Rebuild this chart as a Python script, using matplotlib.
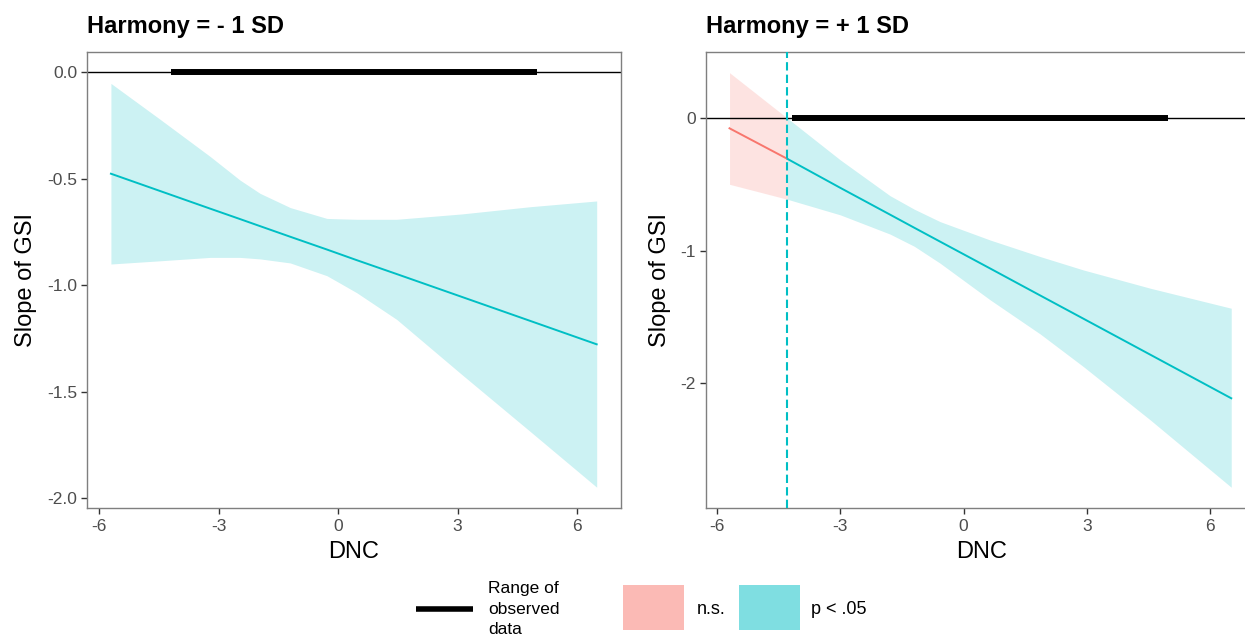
import matplotlib.pyplot as plt
from matplotlib.patches import Rectangle
from matplotlib.lines import Line2D

plt.rcParams['font.family'] = ['Liberation Sans', 'DejaVu Sans']
plt.rcParams['axes.unicode_minus'] = False

NS_COLOR = '#F8766D'
SIG_COLOR = '#00BFC4'
W, H = 1245, 636

# Conditional slope of GSI along DNC, Harmony = -1 SD
low_dnc = [-5.70, -4.47, -3.21, -2.46, -1.96, -1.20, -0.28, 0.05, 0.47, 1.47, 3.10, 4.82, 6.49]
low_slope = [-0.476, -0.557, -0.640, -0.689, -0.722, -0.772, -0.832, -0.854, -0.882, -0.947, -1.054, -1.167, -1.277]
low_upper = [-0.052, -0.220, -0.395, -0.506, -0.568, -0.635, -0.686, -0.688, -0.690, -0.690, -0.665, -0.631, -0.604]
low_lower = [-0.900, -0.885, -0.869, -0.869, -0.876, -0.895, -0.955, -0.990, -1.035, -1.160, -1.418, -1.686, -1.948]

# Harmony = +1 SD
high_dnc = [-5.70, -4.29, -3.00, -1.79, -1.20, -0.57, 0.65, 1.87, 2.92, 4.55, 6.52]
high_slope = [-0.076, -0.307, -0.526, -0.728, -0.827, -0.932, -1.135, -1.339, -1.514, -1.786, -2.115]
high_upper = [0.344, 0.000, -0.315, -0.585, -0.687, -0.781, -0.920, -1.045, -1.146, -1.284, -1.435]
high_lower = [-0.499, -0.612, -0.730, -0.875, -0.967, -1.095, -1.372, -1.630, -1.876, -2.279, -2.787]
high_jn = -4.29  # Johnson-Neyman boundary

observed_range = [-4.18, 4.98]
x_ticks = [-6, -3, 0, 3, 6]
low_yticks = [0.0, -0.5, -1.0, -1.5, -2.0]
low_yticklabels = ['0.0', '-0.5', '-1.0', '-1.5', '-2.0']
high_yticks = [0, -1, -2]
high_yticklabels = ['0', '-1', '-2']


def pick(xs, ys, keep):
    return [y for x, y in zip(xs, ys) if keep(x)]


def draw_panel(ax, dnc, slope, lower, upper, jn, title, yticks, ylabels, xlim, ylim):
    ax.axhline(0, color='black', lw=1.0, zorder=2)
    ax.plot(observed_range, [0, 0], color='black', lw=4.3, solid_capstyle='butt', zorder=3)

    if jn is None:
        segments = [(SIG_COLOR, lambda x: True)]
    else:
        segments = [(NS_COLOR, lambda x: x <= jn), (SIG_COLOR, lambda x: x >= jn)]
    for color, keep in segments:
        xs = pick(dnc, dnc, keep)
        ax.fill_between(xs, pick(dnc, lower, keep), pick(dnc, upper, keep),
                        color=color, alpha=0.2, lw=0, zorder=1)
        ax.plot(xs, pick(dnc, slope, keep), color=color, lw=1.4, zorder=4)
    if jn is not None:
        ax.axvline(jn, color=SIG_COLOR, lw=1.5, ls=(0, (4, 2)), zorder=5)

    ax.set_xlim(xlim)
    ax.set_ylim(ylim)
    ax.set_xticks(x_ticks)
    ax.set_xticklabels([str(t) for t in x_ticks])
    ax.set_yticks(yticks)
    ax.set_yticklabels(ylabels)
    ax.tick_params(length=4, width=1, color='#333333', labelcolor='#4D4D4D',
                   labelsize=12.5, pad=3)
    ax.tick_params(axis='x', pad=4)
    for sp in ax.spines.values():
        sp.set_color('#7F7F7F')
        sp.set_linewidth(1.0)
    ax.set_xlabel('DNC', fontsize=17, labelpad=5)
    ax.set_ylabel('Slope of GSI', fontsize=17, labelpad=7)
    ax.set_title(title, loc='left', fontsize=17, fontweight='bold', pad=14)


fig = plt.figure(figsize=(W / 100, H / 100), dpi=100)
ax_low = fig.add_axes([87 / W, 1 - 508.3 / H, 534 / W, 456 / H])
ax_high = fig.add_axes([705.7 / W, 1 - 508.3 / H, 551 / W, 456 / H])

draw_panel(ax_low, low_dnc, low_slope, low_lower, low_upper, None,
           'Harmony = - 1 SD', low_yticks, low_yticklabels, (-6.30, 7.10), (-2.047, 0.094))
draw_panel(ax_high, high_dnc, high_slope, high_lower, high_upper, high_jn,
           'Harmony = + 1 SD', high_yticks, high_yticklabels, (-6.28, 7.14), (-2.946, 0.498))

# legend along the bottom
ky = 1 - 609 / H
fig.add_artist(Line2D([416 / W, 473 / W], [ky, ky], color='black', lw=4, solid_capstyle='butt'))
fig.text(488 / W, ky, 'Range of\nobserved\ndata', fontsize=12.5, va='center', ha='left',
         linespacing=1.45)
sq_h = 45 / H
fig.add_artist(Rectangle((622.5 / W, 1 - 629.5 / H), 61 / W, sq_h,
                         facecolor=NS_COLOR, alpha=0.5, lw=0))
fig.text(697 / W, ky, 'n.s.', fontsize=13, va='center', ha='left')
fig.add_artist(Rectangle((738.5 / W, 1 - 629.5 / H), 61 / W, sq_h,
                         facecolor=SIG_COLOR, alpha=0.5, lw=0))
fig.text(811 / W, ky, 'p < .05', fontsize=13, va='center', ha='left')

fig.savefig('out.png', dpi=100)
